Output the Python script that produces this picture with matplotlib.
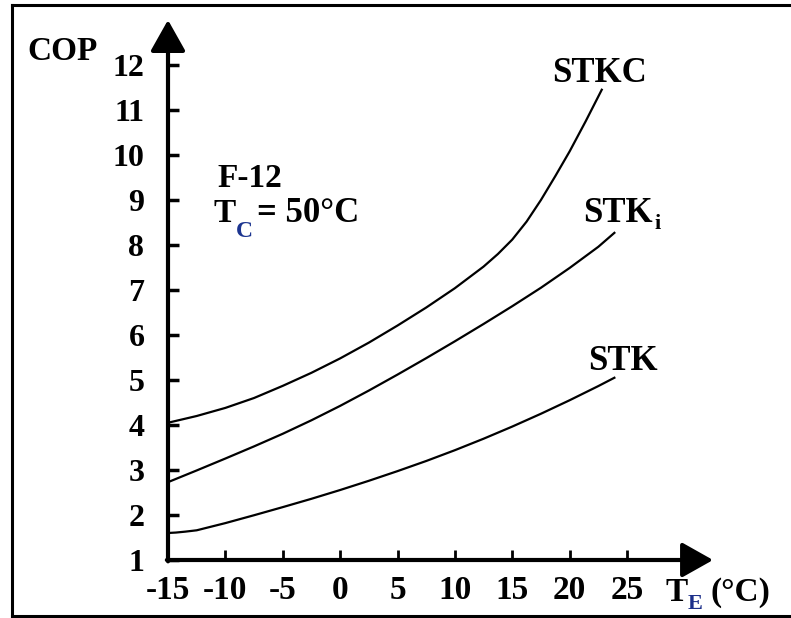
import matplotlib
matplotlib.use("Agg")
import matplotlib.pyplot as plt
from matplotlib.lines import Line2D

plt.rcParams['font.family'] = ['Liberation Serif', 'DejaVu Serif']
plt.rcParams['font.weight'] = 'bold'
plt.rcParams['axes.unicode_minus'] = False

# evaporator temperature T_E (degC) and COP
t_stkc = [-15, -12.5, -10, -7.5, -5, -2.5, 0, 2.5, 5, 7.5, 10, 12.5, 13.75, 15, 16.25,
          17.5, 18.75, 20, 21.4, 22.8]
cop_stkc = [4.05, 4.2, 4.38, 4.6, 4.87, 5.16, 5.48, 5.83, 6.21, 6.61, 7.04, 7.52, 7.8,
            8.12, 8.52, 9.0, 9.53, 10.08, 10.75, 11.45]

t_stki = [-15, -12.5, -10, -7.5, -5, -2.5, 0, 2.5, 5, 7.5, 10, 12.5, 15, 17.5, 20, 22.5, 23.9]
cop_stki = [2.73, 2.99, 3.255, 3.525, 3.805, 4.105, 4.425, 4.765, 5.12, 5.485, 5.86,
            6.245, 6.64, 7.05, 7.49, 7.96, 8.27]

t_stk = [-15, -14.3, -13.5, -12.5, -10, -7.5, -5, -2.5, 0, 2.5, 5, 7.5, 10, 12.5, 15,
         17.5, 20, 22.5, 23.9]
cop_stk = [1.6, 1.61, 1.63, 1.66, 1.82, 1.995, 2.175, 2.36, 2.555, 2.76, 2.975, 3.2,
           3.44, 3.695, 3.965, 4.25, 4.55, 4.865, 5.05]

xticks = [-15, -10, -5, 0, 5, 10, 15, 20, 25]
yticks = [1, 2, 3, 4, 5, 6, 7, 8, 9, 10, 11, 12]

W, H = 791, 618
fig = plt.figure(figsize=(W / 100, H / 100), dpi=100)
ax = fig.add_axes([168 / W, 58 / H, 550.8 / W, 549 / H])
ax.set_xlim(-15, 33)
ax.set_ylim(1, 13.2)
for s in ax.spines.values():
    s.set_visible(False)

ax.set_xticks(xticks)
ax.set_xticklabels([str(t) for t in xticks])
ax.set_yticks(yticks)
ax.tick_params(axis='x', direction='in', length=7, width=2, pad=11, labelsize=24)
ax.tick_params(axis='y', direction='in', length=8, width=2.5, pad=17, labelsize=23)

# axes with arrow heads
arr = dict(arrowstyle='-|>,head_length=0.8,head_width=0.45', lw=3, color='black',
           mutation_scale=24, shrinkA=0, shrinkB=0)
ax.annotate('', xy=(32.5, 1), xytext=(-15.1, 1), arrowprops=arr, annotation_clip=False)
ax.annotate('', xy=(-15, 13.0), xytext=(-15, 0.97), arrowprops=arr, annotation_clip=False)

for t, c in [(t_stkc, cop_stkc), (t_stki, cop_stki), (t_stk, cop_stk)]:
    ax.plot(t, c, color='black', lw=1.6, solid_joinstyle='round')

ax.text(18.5, 11.62, 'STKC', fontsize=25, fontweight='bold')
ax.text(21.2, 8.5, 'STK', fontsize=25, fontweight='bold')
ax.annotate('i', xy=(21.2, 8.5), xytext=(51, -5), textcoords='offset points',
            fontsize=16, fontweight='bold')
ax.text(21.6, 5.22, 'STK', fontsize=25, fontweight='bold')

ax.text(-10.7, 9.29, 'F-12', fontsize=24, fontweight='bold')
ax.text(-11.0, 8.51, 'T', fontsize=24, fontweight='bold')
ax.annotate('C', xy=(-11.0, 8.51), xytext=(16, -11), textcoords='offset points',
            fontsize=17, fontweight='bold', color='#1c3590')
ax.annotate('= 50\u00b0C', xy=(-11.0, 8.51), xytext=(31, 0), textcoords='offset points',
            fontsize=25, fontweight='bold')

fig.text(27 / W, 1 - 60 / H, 'COP', fontsize=24, fontweight='bold')
fig.text(665 / W, 1 - 601 / H, 'T', fontsize=24, fontweight='bold')
fig.text(688 / W, 1 - 609 / H, 'E', fontsize=16, fontweight='bold', color='#1c2f8a')
fig.text(710 / W, 1 - 601 / H, '(\u00b0C)', fontsize=24, fontweight='bold')

# frame around the picture (no right edge)
for xs, ys in [([12, W], [5, 5]), ([12, 12], [5, 616]), ([12, W], [616, 616])]:
    fig.add_artist(Line2D([x / W for x in xs], [1 - y / H for y in ys],
                          color='black', lw=2.2, transform=fig.transFigure))

fig.savefig('out.png', dpi=100)
